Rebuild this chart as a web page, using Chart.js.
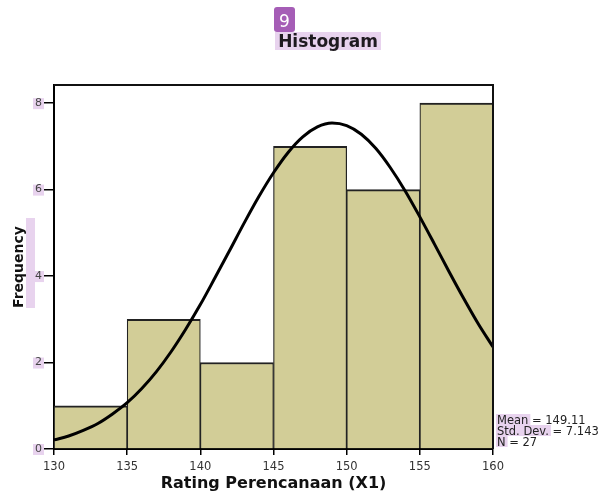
<!DOCTYPE html>
<html>
<head>
<meta charset="utf-8">
<script src="https://cdn.jsdelivr.net/npm/chart.js@4.4.0/dist/chart.umd.min.js"></script>
<style>
  html, body { margin: 0; padding: 0; background: #fff; }
  #wrap { width: 607px; height: 493px; }
</style>
</head>
<body>
<div id="wrap"><canvas id="histChart" width="607" height="493"></canvas></div>
<script>
"use strict"

// Data

const binCenters = [132.5, 137.5, 142.5, 147.5, 152.5, 157.5];
const frequencies = [1, 3, 2, 7, 6, 8];

// normal curve, read at every whole rating
const curveX = [130, 131, 132, 133, 134, 135, 136, 137, 138, 139, 140, 141, 142, 143, 144, 145,
    146, 147, 148, 149, 150, 151, 152, 153, 154, 155, 156, 157, 158, 159, 160];
const curveY = [0.21, 0.30, 0.43, 0.59, 0.81, 1.07, 1.40, 1.79, 2.25, 2.77, 3.34, 3.96, 4.59, 5.23,
    5.84, 6.39, 6.86, 7.22, 7.45, 7.54, 7.48, 7.28, 6.95, 6.50, 5.97, 5.37, 4.74, 4.10, 3.48, 2.89, 2.36];

const yTicks = [0, 2, 4, 6, 8];
const statLines = ['Mean = 149.11', 'Std. Dev. = 7.143', 'N = 27'];
const statWords = ['Mean', 'Std. Dev.', 'N'];

const HIGHLIGHT = '#E8D3EE';
const FONT = 'DejaVu Sans';


// Highlights, frame, title and stats box

const decor = {
    id: 'decor',
    beforeDraw(chart) {
        const ctx = chart.ctx;
        ctx.save();
        ctx.fillStyle = '#fff';
        ctx.fillRect(0, 0, chart.width, chart.height);

        ctx.fillStyle = HIGHLIGHT;
        ctx.fillRect(275, 32, 106, 18);     // title
        ctx.fillRect(26, 218, 9, 90);       // Frequency

        const y = chart.scales.y;
        yTicks.forEach(v => {
            const p = y.getPixelForValue(v);
            ctx.fillRect(33, p - 5, 11, 11);
        });

        ctx.font = `11.5px "${FONT}"`;
        statWords.forEach((w, i) => {
            const wd = ctx.measureText(w).width;
            ctx.fillRect(496, 414 + i * 11, wd + 3, 11);
        });
        ctx.restore();
    },
    afterDraw(chart) {
        const ctx = chart.ctx;
        const a = chart.chartArea;
        ctx.save();

        // top and right frame
        ctx.strokeStyle = '#111';
        ctx.lineWidth = 2;
        ctx.beginPath();
        ctx.moveTo(a.left, a.top);
        ctx.lineTo(a.right, a.top);
        ctx.lineTo(a.right, a.bottom);
        ctx.stroke();

        // badge
        ctx.fillStyle = '#A55DB6';
        ctx.beginPath();
        ctx.roundRect(274, 7, 21, 25, 3);
        ctx.fill();
        ctx.fillStyle = '#fff';
        ctx.font = `17px "${FONT}"`;
        ctx.textAlign = 'center';
        ctx.textBaseline = 'alphabetic';
        ctx.fillText('9', 284.5, 27);

        // title
        ctx.fillStyle = '#1e1a1f';
        ctx.font = `bold 17px "${FONT}"`;
        ctx.fillText('Histogram', 328, 47);

        // stats
        ctx.fillStyle = '#222';
        ctx.font = `11.5px "${FONT}"`;
        ctx.textAlign = 'left';
        statLines.forEach((t, i) => {
            ctx.fillText(t, 497, 424 + i * 11);
        });
        ctx.restore();
    }
};


// Histogram

const ctxHist = document.getElementById('histChart').getContext('2d');

const histChart = new Chart(ctxHist, {
    type: 'bar',
    data: {
        datasets: [
            {
                type: 'line',
                label: 'Normal',
                data: curveX.map((x, i) => ({ x: x, y: curveY[i] })),
                borderColor: '#000',
                borderWidth: 3,
                pointRadius: 0,
                cubicInterpolationMode: 'monotone',
                fill: false,
                order: 0,
            },
            {
                type: 'bar',
                label: 'Frequency',
                data: binCenters.map((x, i) => ({ x: x, y: frequencies[i] })),
                backgroundColor: '#D2CD97',
                borderColor: '#222',
                borderWidth: { top: 2, left: 1.2, right: 1.2, bottom: 0 },
                borderSkipped: false,
                barPercentage: 1,
                categoryPercentage: 1,
                order: 1,
            }
        ]
    },
    options: {
        responsive: false,
        animation: false,
        layout: {
            padding: { top: 85, right: 114, bottom: 0, left: 0 }
        },
        plugins: {
            legend: { display: false },
            tooltip: { enabled: false },
        },
        scales: {
            x: {
                type: 'linear',
                min: 130,
                max: 160,
                offset: false,
                afterFit: s => { s.height = 44; },
                ticks: {
                    stepSize: 5,
                    padding: 5,
                    maxRotation: 0,
                    autoSkip: false,
                    color: '#333',
                    font: { family: FONT, size: 11.5 },
                },
                grid: {
                    offset: false,
                    drawOnChartArea: false,
                    tickLength: 6,
                    color: '#000',
                    lineWidth: 1.5,
                },
                border: { display: true, color: '#000', width: 2 },
                title: {
                    display: true,
                    text: 'Rating Perencanaan (X1)',
                    color: '#111',
                    font: { family: FONT, size: 16, weight: 'bold' },
                    padding: 0,
                }
            },
            y: {
                min: 0,
                max: 8.42,
                afterFit: s => { s.width = 54; },
                afterBuildTicks: s => { s.ticks = yTicks.map(v => ({ value: v })); },
                ticks: {
                    padding: 2,
                    color: '#444',
                    font: { family: FONT, size: 11 },
                },
                grid: {
                    drawOnChartArea: false,
                    tickLength: 10,
                    color: '#000',
                    lineWidth: 1.5,
                },
                border: { display: true, color: '#000', width: 2 },
                title: {
                    display: true,
                    text: 'Frequency',
                    color: '#111',
                    font: { family: FONT, size: 14, weight: 'bold' },
                    padding: { top: 11, bottom: 0 },
                }
            }
        }
    },
    plugins: [decor]
});
</script>
</body>
</html>
